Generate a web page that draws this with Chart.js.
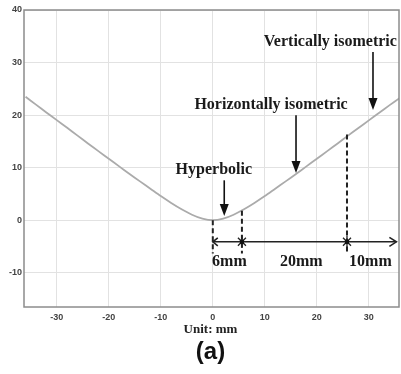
<!DOCTYPE html>
<html>
<head>
<meta charset="utf-8">
<script src="https://cdn.jsdelivr.net/npm/chart.js@4"></script>
<style>
html,body{margin:0;padding:0;background:#fff;}
#wrap{width:401px;height:374px;}
</style>
</head>
<body>
<div id="wrap"><canvas id="c" width="401" height="374"></canvas></div>
<script>
// ---- data ----
const curveX = [-36,-34,-32,-30,-28,-26,-24,-22,-20,-18,-16,-14,-12,-10,-8,-6,-4,-2,0,2,4,6,8,10,12,14,16,18,20,22,24,26,28,30,32,34,36];
const curveY = [23.5,22.0,20.5,19.05,17.6,16.1,14.6,13.15,11.7,10.25,8.8,7.4,6.0,4.6,3.3,2.1,1.05,0.3,0,0.3,1.05,2.1,3.3,4.6,6.0,7.4,8.8,10.25,11.7,13.15,14.6,16.1,17.55,19.0,20.45,21.9,23.3];
const xTicks = [-30,-20,-10,0,10,20,30];
const yTicks = [-10,0,10,20,30,40];
const arrowLabels = ['Vertically isometric','Horizontally isometric','Hyperbolic'];
const arrowX = [30.8, 16.0, 2.2];
const arrowFromY = [32.0, 20.0, 7.6];
const arrowToY = [21.0, 9.0, 0.8];
const dimX = [0, 5.6, 25.8];
const dimTopY = [0, 1.8, 16.3];
const dimLabels = ['6mm','20mm','10mm'];
const dimLabelX = [3.2, 17.0, 30.3];

const serif = '"Liberation Serif","Times New Roman",serif';

const annot = {
  id:'annot',
  afterDraw(chart){
    const ctx = chart.ctx, xs = chart.scales.x, ys = chart.scales.y, a = chart.chartArea;
    const px = v => xs.getPixelForValue(v), py = v => ys.getPixelForValue(v);
    ctx.save();
    // frame
    ctx.strokeStyle = '#8c8c8c'; ctx.lineWidth = 1.5;
    ctx.strokeRect(a.left, a.top, a.right - a.left, a.bottom - a.top);
    // arrows with labels
    const labelPos = [[22.6,34.0],[11.2,21.9],[0.2,9.6]];
    ctx.fillStyle = '#111'; ctx.strokeStyle = '#111';
    for (let i = 0; i < arrowX.length; i++) {
      const x = px(arrowX[i]), y0 = py(arrowFromY[i]), y1 = py(arrowToY[i]);
      ctx.lineWidth = 1.6;
      ctx.beginPath(); ctx.moveTo(x, y0); ctx.lineTo(x, y1 - 10); ctx.stroke();
      ctx.beginPath(); ctx.moveTo(x - 4.5, y1 - 12); ctx.lineTo(x + 4.5, y1 - 12); ctx.lineTo(x, y1); ctx.closePath(); ctx.fill();
      ctx.font = 'bold 16px ' + serif; ctx.textAlign = 'center'; ctx.textBaseline = 'middle';
      ctx.fillStyle = '#1a1a1a';
      ctx.fillText(arrowLabels[i], px(labelPos[i][0]), py(labelPos[i][1]));
      ctx.fillStyle = '#111';
    }
    // dashed verticals
    const yDim = py(-4.1), yDashEnd = py(-6.3);
    ctx.setLineDash([5,3]); ctx.lineWidth = 2; ctx.strokeStyle = '#222';
    for (let i = 0; i < dimX.length; i++) {
      ctx.beginPath(); ctx.moveTo(px(dimX[i]), py(dimTopY[i])); ctx.lineTo(px(dimX[i]), yDashEnd); ctx.stroke();
    }
    ctx.setLineDash([]);
    // horizontal dimension line
    const xl = px(dimX[0]), xr = px(35.3);
    ctx.lineWidth = 1.6; ctx.strokeStyle = '#222';
    ctx.beginPath(); ctx.moveTo(xl, yDim); ctx.lineTo(xr, yDim); ctx.stroke();
    // right arrowhead (open)
    ctx.beginPath(); ctx.moveTo(xr - 7, yDim - 4.5); ctx.lineTo(xr, yDim); ctx.lineTo(xr - 7, yDim + 4.5); ctx.stroke();
    // left arrowhead
    ctx.beginPath(); ctx.moveTo(xl + 5, yDim - 4); ctx.lineTo(xl, yDim); ctx.lineTo(xl + 5, yDim + 4); ctx.stroke();
    // star markers
    for (let i = 1; i < dimX.length; i++) {
      const x = px(dimX[i]);
      ctx.lineWidth = 1.3;
      ctx.beginPath();
      ctx.moveTo(x - 4, yDim - 4); ctx.lineTo(x + 4, yDim + 4);
      ctx.moveTo(x + 4, yDim - 4); ctx.lineTo(x - 4, yDim + 4);
      ctx.moveTo(x, yDim - 6); ctx.lineTo(x, yDim + 6);
      ctx.stroke();
      ctx.fillRect(x - 2, yDim - 2, 4, 4);
    }
    // dimension labels
    ctx.font = 'bold 16px ' + serif; ctx.textAlign = 'center'; ctx.textBaseline = 'middle';
    ctx.fillStyle = '#1a1a1a';
    for (let i = 0; i < dimLabels.length; i++) {
      ctx.fillText(dimLabels[i], px(dimLabelX[i]), py(-7.9));
    }
    // unit label and caption
    ctx.font = 'bold 13px ' + serif; ctx.fillStyle = '#222';
    ctx.fillText('Unit: mm', 210.5, 330);
    ctx.font = 'bold 24px "Liberation Sans", Arial, sans-serif'; ctx.fillStyle = '#111';
    ctx.fillText('(a)', 210.5, 352);
    ctx.restore();
  }
};

new Chart(document.getElementById('c'), {
  type: 'line',
  data: {
    datasets: [{
      data: curveX.map((x, i) => ({x: x, y: curveY[i]})),
      borderColor: '#ababab',
      borderWidth: 1.8,
      pointRadius: 0,
      tension: 0.3,
      fill: false
    }]
  },
  options: {
    responsive: false,
    animation: false,
    layout: {padding: {left: 0, right: 2, top: 10, bottom: 0}},
    plugins: {legend: {display: false}, tooltip: {enabled: false}},
    scales: {
      x: {
        type: 'linear', min: -36.3, max: 35.8,
        afterBuildTicks: s => { s.ticks = xTicks.map(v => ({value: v})); },
        afterFit: s => { s.height = 67; },
        grid: {color: '#e2e2e2', lineWidth: 1, drawTicks: false},
        border: {display: false},
        ticks: {padding: 5, color: '#444', font: {family: '"Liberation Sans", Arial, sans-serif', size: 9, weight: 'bold'}}
      },
      y: {
        type: 'linear', min: -16.5, max: 40,
        afterBuildTicks: s => { s.ticks = yTicks.map(v => ({value: v})); },
        afterFit: s => { s.width = 24; },
        grid: {color: '#e2e2e2', lineWidth: 1, drawTicks: false},
        border: {display: false},
        ticks: {padding: 2, color: '#444', font: {family: '"Liberation Sans", Arial, sans-serif', size: 9, weight: 'bold'}}
      }
    }
  },
  plugins: [annot]
});
</script>
</body>
</html>
